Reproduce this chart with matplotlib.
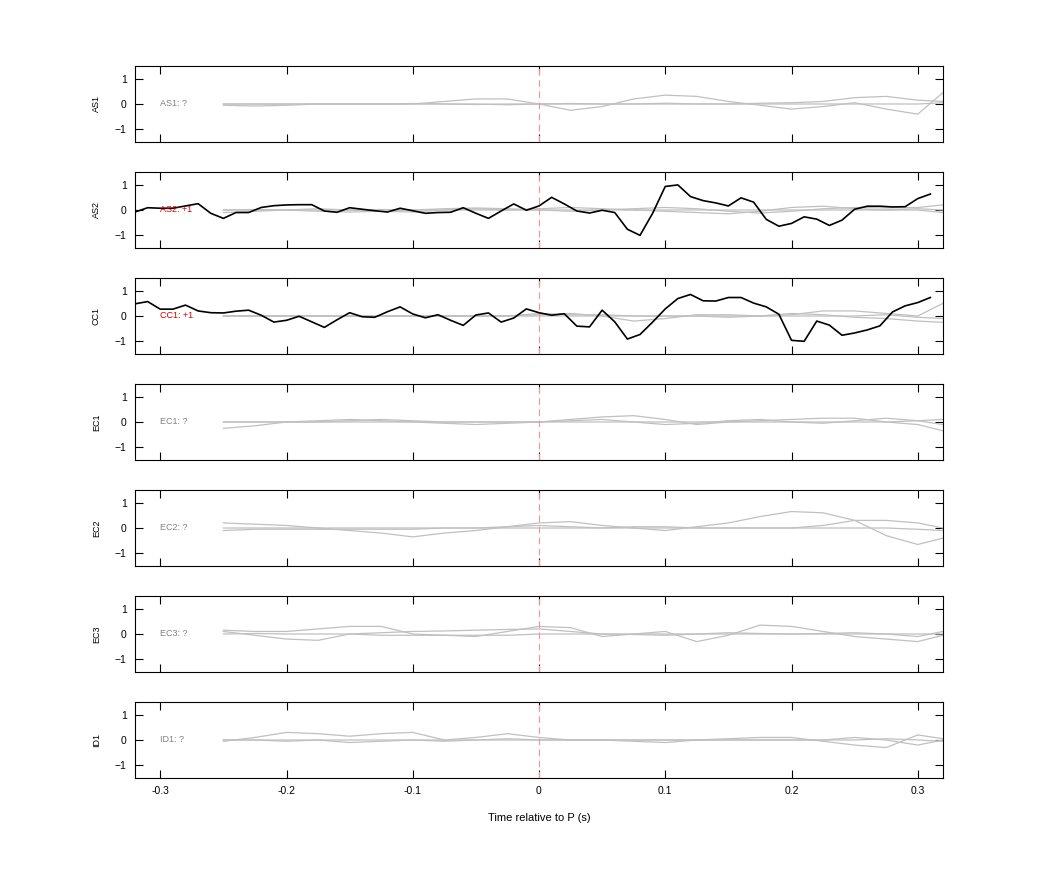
import matplotlib
matplotlib.use("Agg")
import matplotlib.pyplot as plt
import numpy as np

plt.rcParams['font.family'] = ['Liberation Sans', 'DejaVu Sans']

stations = ["AS1", "AS2", "CC1", "EC1", "EC2", "EC3", "ID1"]
labels = ["AS1: ?", "AS2: +1", "CC1: +1", "EC1: ?", "EC2: ?", "EC3: ?", "ID1: ?"]
label_colors = ["#808080", "#d40000", "#d40000", "#808080", "#808080", "#808080", "#808080"]

# black traces (10 ms samples from -0.32 to 0.31 s)
black_t = np.round(np.arange(-0.32, 0.315, 0.01), 3)
as2_black = [-0.08, 0.09, 0.07, 0.07, 0.16, 0.25, -0.13, -0.33, -0.1, -0.1, 0.1, 0.17, 0.2, 0.21,
             0.21, -0.04, -0.09, 0.09, 0.03, -0.03, -0.08, 0.07, -0.03, -0.13, -0.1, -0.09, 0.09,
             -0.13, -0.33, -0.04, 0.24, -0.01, 0.16, 0.5, 0.24, -0.04, -0.12, -0.01, -0.1, -0.76,
             -1.0, -0.13, 0.93, 0.99, 0.53, 0.37, 0.28, 0.16, 0.48, 0.31, -0.37, -0.64, -0.53,
             -0.27, -0.36, -0.61, -0.4, 0.03, 0.15, 0.15, 0.12, 0.13, 0.45, 0.63]
cc1_black = [0.48, 0.57, 0.27, 0.27, 0.43, 0.2, 0.13, 0.12, 0.19, 0.23, 0.03, -0.24, -0.17, -0.01,
             -0.23, -0.45, -0.15, 0.13, -0.03, -0.05, 0.17, 0.36, 0.08, -0.07, 0.05, -0.17, -0.37,
             0.04, 0.12, -0.24, -0.08, 0.28, 0.13, 0.03, 0.09, -0.4, -0.43, 0.23, -0.23, -0.91,
             -0.73, -0.24, 0.28, 0.69, 0.85, 0.6, 0.59, 0.73, 0.73, 0.51, 0.36, 0.07, -0.96, -1.0,
             -0.2, -0.36, -0.76, -0.67, -0.55, -0.39, 0.16, 0.4, 0.53, 0.73]
black = {"AS2": as2_black, "CC1": cc1_black}

# gray traces, sampled every 25 ms from -0.25 s, last sample at 0.32 s
gray_t = list(np.round(np.arange(-0.25, 0.301, 0.025), 3)) + [0.32]
gray = {
    "AS1": [
        [0, 0, 0, 0, 0, 0, 0, 0.1, 0.2, 0.2, 0, -0.25, -0.1, 0.2, 0.35, 0.3, 0.1, -0.05, -0.2, -0.1, 0.05, -0.2, -0.4, 0.45],
        [0, 0, 0, 0, 0, 0, 0.02, 0, -0.02, 0, 0, 0.02, 0, 0, 0.03, 0, 0, 0.03, 0.05, 0.1, 0.25, 0.3, 0.15, 0.1],
        [-0.05, -0.08, -0.05, 0, 0, 0, 0, 0, 0, -0.03, 0, 0, 0, 0, 0, 0, 0, 0, 0, 0, 0, 0, 0, 0.05],
    ],
    "AS2": [
        [0, 0.02, 0, -0.05, -0.08, -0.05, 0, 0.05, 0.08, 0.05, 0, -0.05, 0, 0.05, 0.1, 0.05, -0.05, -0.12, -0.05, 0.05, 0.1, 0.08, 0.1, 0.2],
        [-0.1, -0.05, 0, 0.05, 0, -0.05, -0.08, 0, 0.05, 0, 0.05, 0.1, 0.05, 0, -0.05, -0.1, -0.15, -0.05, 0.1, 0.15, 0.05, 0, 0.05, 0],
        [0, 0, 0, 0, 0, 0.02, 0, 0, 0, 0, 0, 0, 0, 0, 0, 0, 0, 0, 0, 0, 0, 0, 0, -0.1],
    ],
    "CC1": [
        [0, 0, 0, 0, 0, 0, 0, 0, 0, 0, 0.05, 0.1, 0, -0.2, -0.1, 0.05, 0.05, 0, 0.05, 0.2, 0.2, 0.1, 0, 0.5],
        [0, 0, 0, 0, 0, 0, 0, 0, 0, 0, 0.1, 0.05, 0.05, 0, 0, 0, -0.05, 0, 0.1, 0.05, -0.05, -0.1, -0.2, -0.25],
        [0, 0, 0, 0, 0, 0, 0, 0, 0, 0, 0, 0, 0, 0, 0, 0, 0, 0, 0, 0, 0, 0.05, -0.05, -0.1],
    ],
    "EC1": [
        [-0.25, -0.15, 0, 0.05, 0.1, 0.05, 0, -0.05, -0.1, -0.05, 0, 0.1, 0.2, 0.25, 0.1, -0.1, 0, 0.05, 0.1, 0.15, 0.15, 0, -0.1, -0.35],
        [0, 0, 0, 0, 0.05, 0.1, 0.05, 0, 0, 0, 0, 0.05, 0.1, 0, -0.1, -0.05, 0.05, 0.1, 0, -0.05, 0.05, 0.15, 0.05, -0.1],
        [0, 0, 0, 0, 0, 0, 0, 0, 0, 0, 0, 0, 0, 0, 0, 0, 0, 0, 0, 0, 0, 0, 0.05, 0.1],
    ],
    "EC2": [
        [0.2, 0.15, 0.1, 0, -0.1, -0.2, -0.35, -0.2, -0.1, 0.05, 0.2, 0.25, 0.1, 0, -0.1, 0.05, 0.2, 0.45, 0.65, 0.6, 0.3, -0.3, -0.65, -0.4],
        [-0.1, -0.05, -0.05, -0.05, -0.05, -0.05, -0.05, 0, 0, 0.05, 0.1, 0.05, 0, 0.05, 0.05, 0, 0, 0, 0, 0.1, 0.3, 0.3, 0.2, 0],
        [0, 0, 0, 0, 0, 0, 0, 0, 0, 0, 0, 0, 0, 0, 0, 0, 0, 0, 0, 0, 0, 0, -0.05, -0.1],
    ],
    "EC3": [
        [0.15, 0.1, 0.1, 0.2, 0.3, 0.3, 0, -0.05, -0.1, 0.1, 0.3, 0.25, -0.1, 0, 0.1, -0.3, -0.05, 0.35, 0.3, 0.1, -0.1, -0.2, -0.3, -0.05],
        [0.1, -0.05, -0.2, -0.25, 0, 0.05, 0.1, 0.12, 0.15, 0.18, 0.2, 0.1, 0, -0.02, -0.05, 0, 0.05, 0.02, 0, 0.02, 0.05, 0, -0.1, 0.1],
        [0, 0.02, 0, 0, 0, -0.05, -0.05, -0.05, -0.05, -0.05, 0, 0, 0, 0, 0, 0, 0, 0, 0, 0, 0, 0, 0, 0],
    ],
    "ID1": [
        [-0.05, 0.1, 0.3, 0.25, 0.15, 0.25, 0.3, 0, 0.1, 0.25, 0.1, 0, 0, -0.05, -0.1, 0, 0.05, 0.1, 0.1, -0.05, -0.2, -0.3, 0.2, 0.05],
        [0, 0, -0.05, 0, -0.1, -0.05, 0, -0.05, 0, 0.05, 0, 0, 0, 0, 0, 0, 0, 0, 0, 0, 0.1, 0, -0.2, 0],
        [0, 0, 0, 0, 0, 0, 0, 0, 0, 0, 0, 0, 0, 0, 0, 0, 0, 0, 0, 0, 0, 0.05, 0, -0.05],
    ],
}

fig = plt.figure(figsize=(10.42, 8.75), dpi=100)
tops = [66, 172, 278, 384, 490, 596, 702]
left, right, h = 135 / 1042, 943 / 1042, 76 / 875
for i, st in enumerate(stations):
    ax = fig.add_axes([left, 1 - tops[i] / 875 - h, right - left, h])
    for tr in gray[st]:
        ax.plot(gray_t, tr, color="#c0c0c0", lw=0.9)
    if st in black:
        ax.plot(black_t, black[st], color="black", lw=1.2)
    ax.axvline(0, color="#ff9090", lw=0.8, ls=(0, (6, 4)))
    ax.text(-0.30, 0, labels[i], color=label_colors[i], fontsize=6.5, va="center", ha="left")
    ax.set_xlim(-0.32, 0.32)
    ax.set_ylim(-1.5, 1.5)
    ax.set_yticks([-1, 0, 1])
    ax.set_xticks([-0.3, -0.2, -0.1, 0, 0.1, 0.2, 0.3])
    ax.tick_params(direction="in", top=True, right=True, labelsize=7.5, length=6, pad=6)
    ax.set_ylabel(st, fontsize=6.5, labelpad=10)
    if i < len(stations) - 1:
        ax.set_xticklabels([])
    else:
        ax.set_xticklabels(["-0.3", "-0.2", "-0.1", "0", "0.1", "0.2", "0.3"])
        ax.set_xlabel("Time relative to P (s)", fontsize=8, labelpad=12)

fig.savefig("out.png", dpi=100)
